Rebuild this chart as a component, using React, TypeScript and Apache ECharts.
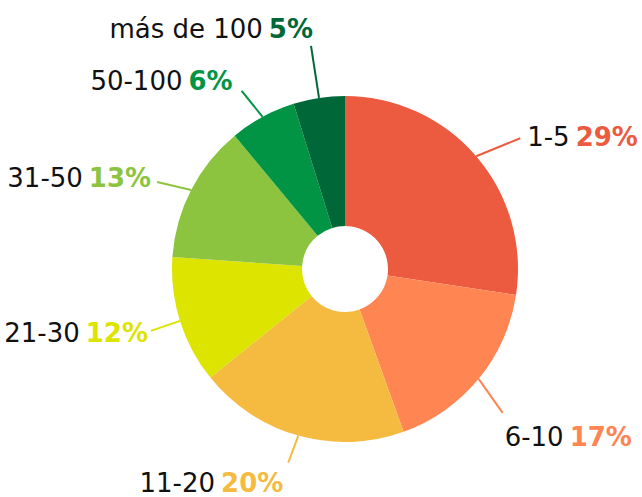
import React, { useEffect, useRef } from "react";
import * as echarts from "echarts";

const categories = ["1-5", "6-10", "11-20", "21-30", "31-50", "50-100", "más de 100"];
const shares = [27.4, 17.1, 19.7, 11.9, 12.9, 6.2, 4.8];
const percentLabels = [29, 17, 20, 12, 13, 6, 5];
const colors = ["#EC5A40", "#FF8552", "#F5BA40", "#DCE400", "#8DC43F", "#009444", "#006838"];

// label line vector (from the slice edge) and text offset from the line end
const lineVectors: [number, number][] = [
  [44, -18],
  [24, 34],
  [-10, 27],
  [-29, 10],
  [-34, -8],
  [-21, -26],
  [-8, -52],
];
const textOffsets: [number, number, string][] = [
  [7, -1, "left"],
  [2, 24, "left"],
  [-5, 20, "right"],
  [-3, 2, "right"],
  [-6, -4, "right"],
  [-9, -10, "right"],
  [2, -17, "right"],
];

export default function App() {
  const ref = useRef<HTMLDivElement>(null);
  useEffect(() => {
    document.body.style.margin = "0";
    const chart = echarts.init(ref.current!, undefined, { renderer: "svg" });
    const data = categories.map((c, i) => ({
      name: c,
      value: shares[i],
      itemStyle: { color: colors[i] },
      label: {
        formatter: `{n|${c}}{p|${percentLabels[i]}%}`,
        rich: {
          n: { fontFamily: "DejaVu Sans", fontSize: 26, color: "#111", fontWeight: "normal" },
          p: {
            fontFamily: "DejaVu Sans",
            fontSize: 26,
            color: colors[i],
            fontWeight: "bold",
            padding: [0, 0, 0, 6],
          },
        },
      },
      labelLine: { lineStyle: { color: colors[i], width: 2 } },
    }));
    chart.setOption({
      animation: false,
      series: [
        {
          type: "pie",
          center: [345, 269],
          radius: [43, 173],
          startAngle: 90,
          clockwise: true,
          avoidLabelOverlap: false,
          label: { show: true, position: "outside" },
          labelLine: { show: true, length: 20, length2: 0, smooth: false },
          labelLayout: (params: any) => {
            const i = params.dataIndex;
            const pts = params.labelLinePoints;
            if (!pts) return {};
            const s = pts[0];
            const [vx, vy] = lineVectors[i];
            const e = [s[0] + vx, s[1] + vy];
            const [dx, dy, align] = textOffsets[i];
            return {
              x: e[0] + dx,
              y: e[1] + dy,
              align,
              verticalAlign: "middle",
              hideOverlap: false,
              labelLinePoints: [
                [s[0], s[1]],
                [e[0], e[1]],
                [e[0], e[1]],
              ],
            };
          },
          data,
        },
      ],
    });
    return () => chart.dispose();
  }, []);
  return <div ref={ref} style={{ width: 642, height: 497 }} />;
}
